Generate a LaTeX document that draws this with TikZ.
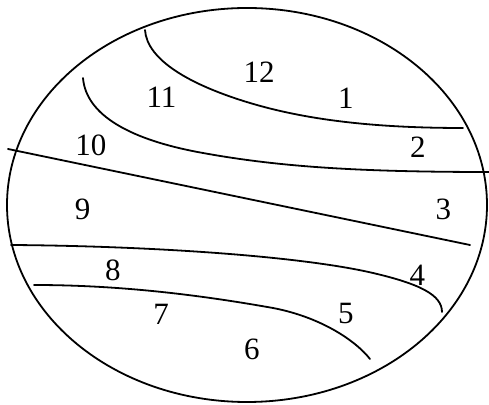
\documentclass[tikz,border=0pt]{standalone}
\usepackage{fontspec}
\setmainfont{Liberation Serif}
\begin{document}
\begin{tikzpicture}[x=0.5pt,y=-0.5pt,
  curve/.style={line width=0.9pt,line cap=round},
  lab/.style={inner sep=0pt,font=\fontsize{15.5}{18}\selectfont}]
\useasboundingbox (0,0) rectangle (489,405);
\draw[curve] (247,205) ellipse [x radius=240, y radius=197];
% boundary curves
\draw[curve] (145,30) .. controls (147,60) and (190,85) .. (250,103)
  .. controls (310,121) and (380,128) .. (463,128);
\draw[curve] (83,78) .. controls (86,115) and (130,140) .. (203,153)
  .. controls (280,167) and (360,172) .. (489,172);
\draw[curve] (8,149) -- (470,245);
\draw[curve] (11,245) .. controls (150,246) and (300,256) .. (373,273)
  .. controls (420,284) and (442,295) .. (442,312);
\draw[curve] (34,285) .. controls (120,285) and (200,295) .. (273,308)
  .. controls (320,317) and (355,340) .. (370,359);
% labels
\node[lab] (n12) at (259,72.5) {12};
\node[lab] (n11) at (161.5,97.5) {11};
\node[lab] (n1) at (346,98) {1};
\node[lab] (n10) at (91,145.5) {10};
\node[lab] (n2) at (418,147) {2};
\node[lab] (n9) at (82.5,209.5) {9};
\node[lab] (n3) at (443.5,209.5) {3};
\node[lab] (n8) at (113,270) {8};
\node[lab] (n4) at (417.5,275) {4};
\node[lab] (n7) at (161,314) {7};
\node[lab] (n5) at (346,314) {5};
\node[lab] (n6) at (252,349) {6};
\end{tikzpicture}
\end{document}
